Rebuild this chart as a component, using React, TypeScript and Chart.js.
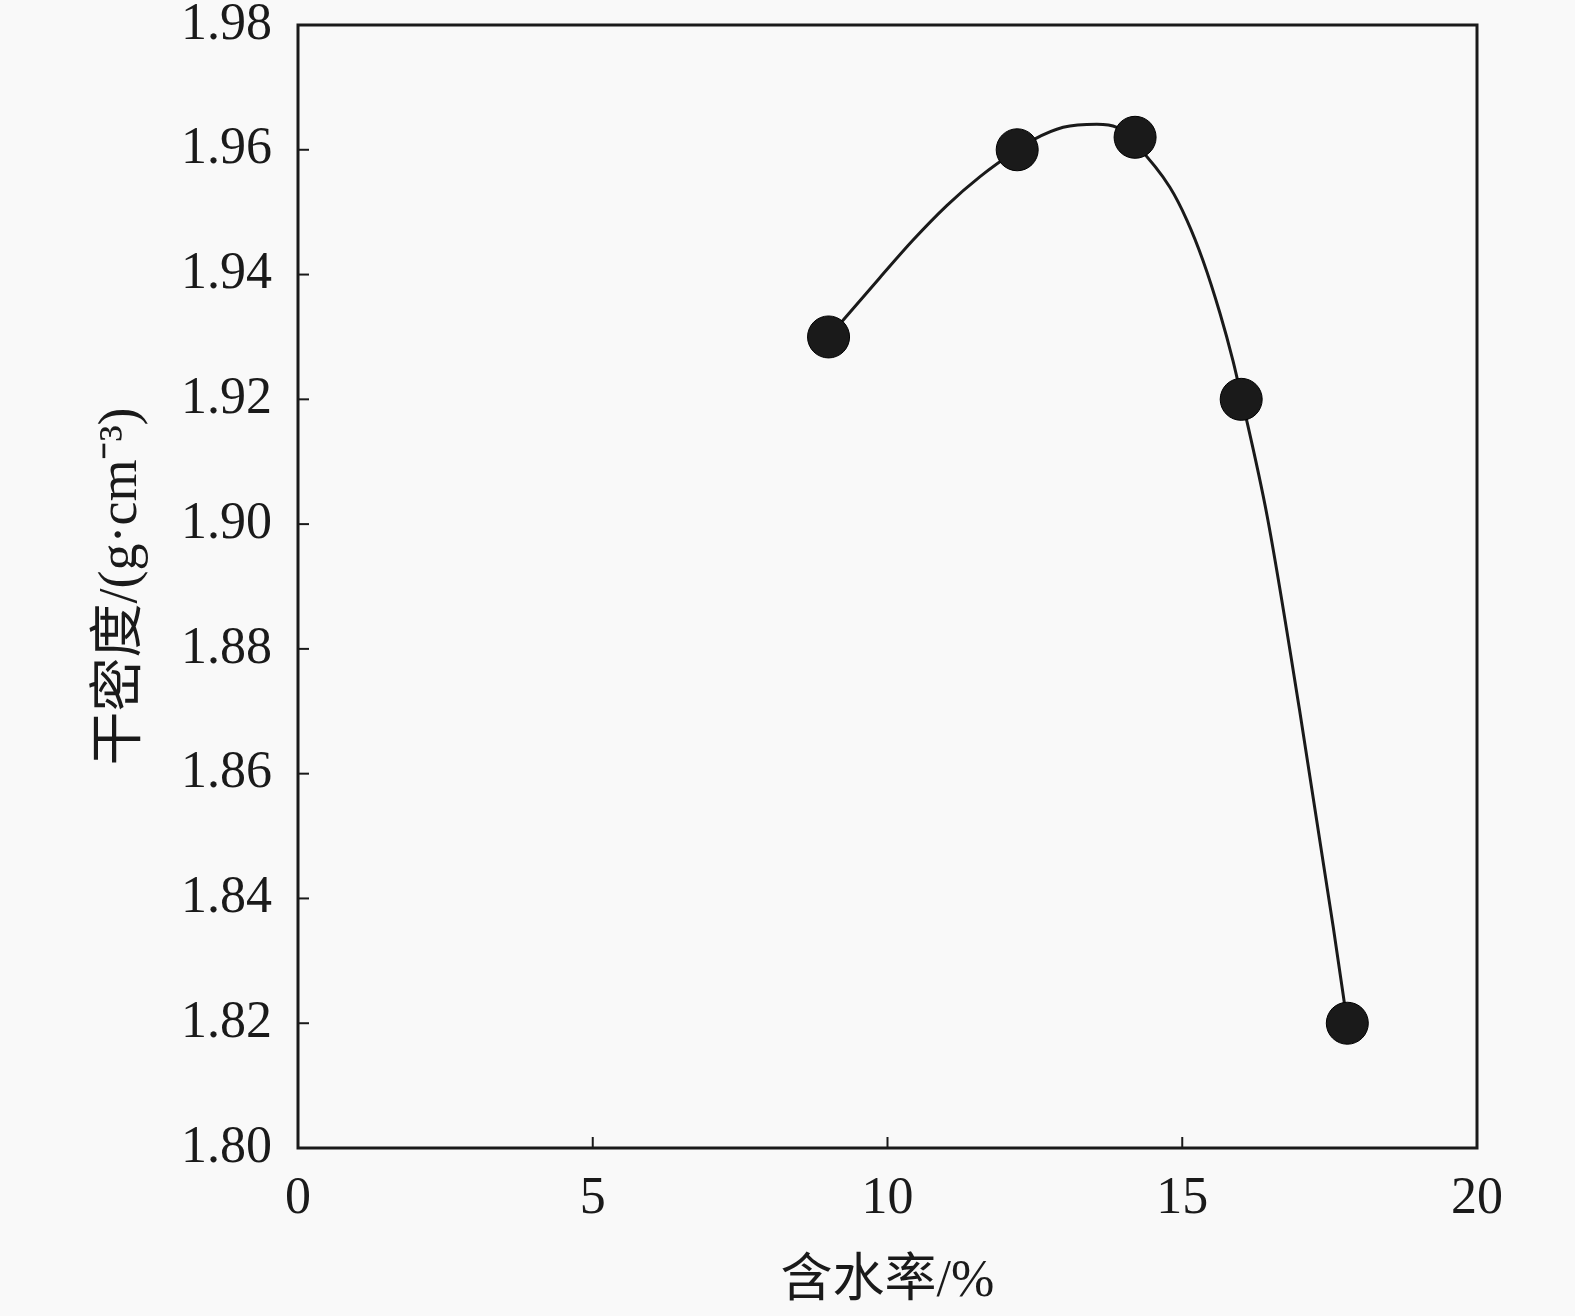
import React, { useEffect, useRef } from "react";
import { Chart, registerables, ChartConfiguration } from "chart.js";

Chart.register(...registerables);

// measured points
const waterContent = [9.0, 12.2, 14.2, 16.0, 17.8];
const dryDensity = [1.93, 1.96, 1.962, 1.92, 1.82];

// fitted curve
const fitX = [9.0, 9.87, 10.43, 11.01, 11.57, 12.2, 12.47, 12.98, 13.55, 13.89, 14.2, 14.79, 15.08, 15.35, 15.64, 15.86, 16.0, 16.44, 16.99, 17.56, 17.8];
const fitY = [1.93, 1.9395, 1.9455, 1.9511, 1.9557, 1.96, 1.9616, 1.9636, 1.9641, 1.9636, 1.961, 1.954, 1.9487, 1.9423, 1.9338, 1.9262, 1.9205, 1.9013, 1.8702, 1.8355, 1.82];

const xTitle = "含水率/%";
const yTitle = "干密度/(g·cm⁻³)";

const INK = "#1a1a1a";
const BG = "#f9f9f9";
const FONT = "'Liberation Serif', 'Noto Sans CJK SC', serif";

const framePlugin = {
  id: "frame",
  beforeDraw(chart: Chart) {
    const ctx = chart.ctx;
    ctx.save();
    ctx.fillStyle = BG;
    ctx.fillRect(0, 0, chart.width, chart.height);
    ctx.restore();
  },
  afterDraw(chart: Chart) {
    const { ctx, chartArea } = chart;
    const xs = chart.scales.x;
    const ys = chart.scales.y;
    ctx.save();
    ctx.strokeStyle = INK;
    ctx.lineWidth = 2;
    // inward tick marks
    xs.ticks.forEach((t) => {
      const px = xs.getPixelForValue(t.value);
      ctx.beginPath();
      ctx.moveTo(px, chartArea.bottom);
      ctx.lineTo(px, chartArea.bottom - 11);
      ctx.stroke();
    });
    ys.ticks.forEach((t) => {
      const py = ys.getPixelForValue(t.value);
      ctx.beginPath();
      ctx.moveTo(chartArea.left, py);
      ctx.lineTo(chartArea.left + 11, py);
      ctx.stroke();
    });
    ctx.lineWidth = 3;
    ctx.strokeRect(chartArea.left, chartArea.top, chartArea.right - chartArea.left, chartArea.bottom - chartArea.top);
    ctx.restore();
  },
};

const noPad = (s: any) => {
  s.paddingTop = 0;
  s.paddingBottom = 0;
  s.paddingLeft = 0;
  s.paddingRight = 0;
};

const App: React.FC = () => {
  const chartRef = useRef<HTMLCanvasElement>(null);
  const chartInstance = useRef<Chart | null>(null);

  useEffect(() => {
    document.body.style.margin = "0";
    document.body.style.background = BG;
    if (!chartRef.current) return;
    if (chartInstance.current) chartInstance.current.destroy();
    const ctx = chartRef.current.getContext("2d");
    if (!ctx) return;

    const config: ChartConfiguration = {
      type: "scatter",
      data: {
        datasets: [
          {
            data: waterContent.map((x, i) => ({ x, y: dryDensity[i] })),
            showLine: false,
            pointRadius: 21,
            pointBackgroundColor: INK,
            pointBorderColor: "#000",
            pointBorderWidth: 1,
            order: 0,
          },
          {
            data: fitX.map((x, i) => ({ x, y: fitY[i] })),
            showLine: true,
            pointRadius: 0,
            borderColor: INK,
            borderWidth: 3,
            cubicInterpolationMode: "monotone",
            order: 1,
          },
        ],
      },
      options: {
        responsive: false,
        animation: false,
        layout: { padding: { top: 25, right: 98, left: 0, bottom: 0 } },
        plugins: {
          legend: { display: false },
          tooltip: { enabled: false },
        },
        scales: {
          x: {
            type: "linear",
            min: 0,
            max: 20,
            afterFit: (s: any) => {
              s.height = 168;
              noPad(s);
            },
            ticks: {
              stepSize: 5,
              color: INK,
              padding: 20,
              font: { family: FONT, size: 52 },
            },
            grid: { display: false, drawTicks: false },
            border: { display: false },
            title: {
              display: true,
              text: xTitle,
              color: INK,
              font: { family: FONT, size: 52 },
              padding: { top: 0, bottom: 2 },
            },
          },
          y: {
            type: "linear",
            min: 1.8,
            max: 1.98,
            afterFit: (s: any) => {
              s.width = 298;
              noPad(s);
            },
            ticks: {
              stepSize: 0.02,
              color: INK,
              padding: 26,
              font: { family: FONT, size: 52 },
              callback: (v: any) => Number(v).toFixed(2),
            },
            grid: { display: false, drawTicks: false },
            border: { display: false },
            title: {
              display: true,
              text: yTitle,
              color: INK,
              font: { family: FONT, size: 54 },
              padding: { top: 89, bottom: 0 },
            },
          },
        },
      },
      plugins: [framePlugin],
    };

    chartInstance.current = new Chart(ctx, config);
    return () => {
      if (chartInstance.current) {
        chartInstance.current.destroy();
        chartInstance.current = null;
      }
    };
  }, []);

  return <canvas ref={chartRef} width={1575} height={1316} style={{ display: "block" }} />;
};

export default App;
